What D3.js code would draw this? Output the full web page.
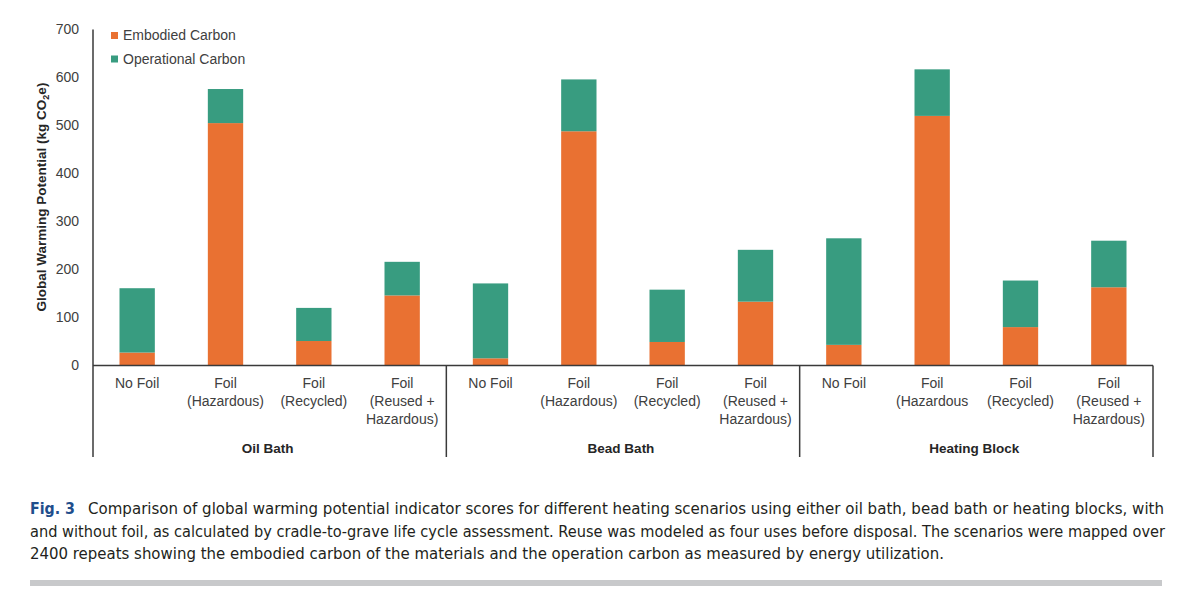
<!DOCTYPE html>
<html lang="en">

<head>
    <meta charset="utf-8">
    <title>Global warming potential by heating scenario</title>
    <script type="text/javascript" src="https://cdn.jsdelivr.net/npm/d3@7"></script>
    <style type="text/css">
    body {
        margin: 0;
        background: #fff;
    }

    svg text {
        font-family: "Liberation Sans", Arial, sans-serif;
        fill: #404040;
    }

    .caption text {
        font-family: "Liberation Sans Narrow", "DejaVu Sans Condensed", "Liberation Sans", sans-serif;
        fill: #231f20;
        font-size: 15px;
    }
    </style>
</head>

<body>
    <script type="text/javascript">
    //Width and height
    var w = 1188;
    var h = 606;

    //data
    var groups = ['Oil Bath', 'Bead Bath', 'Heating Block'];
    var scenarios = [
        ['No Foil'],
        ['Foil', '(Hazardous)'],
        ['Foil', '(Recycled)'],
        ['Foil', '(Reused +', 'Hazardous)']
    ];
    // heating block's hazardous label has no closing bracket in the original
    var heatingHazardousLabel = ['Foil', '(Hazardous'];

    var seriesNames = ['Embodied Carbon', 'Operational Carbon'];
    var seriesColors = ['#e97132', '#389c80'];

    //kg CO2e, per group, in scenario order
    var embodied = [
        [27, 505, 51, 146],
        [15, 488, 49, 133],
        [43, 520, 80, 163]
    ];
    var totals = [
        [161, 576, 120, 216],
        [171, 596, 158, 241],
        [265, 617, 177, 260]
    ];

    var yTicks = [0, 100, 200, 300, 400, 500, 600, 700];

    var captionLines = [
        'Comparison of global warming potential indicator scores for different heating scenarios using either oil bath, bead bath or heating blocks, with',
        'and without foil, as calculated by cradle-to-grave life cycle assessment. Reuse was modeled as four uses before disposal. The scenarios were mapped over',
        '2400 repeats showing the embodied carbon of the materials and the operation carbon as measured by energy utilization.'
    ];

    //flatten into one row per bar
    var rows = [];
    groups.forEach(function(g, gi) {
        scenarios.forEach(function(s, si) {
            rows.push({
                key: g + '|' + si,
                group: gi,
                label: (gi === 2 && si === 1) ? heatingHazardousLabel : s,
                embodied: embodied[gi][si],
                operational: totals[gi][si] - embodied[gi][si]
            });
        });
    });

    //plot area
    var plotLeft = 93;
    var plotRight = 1153;
    var plotBase = 365.5;
    var plotTop = 29.5;
    var plotBottom = 457;

    var x = d3.scaleBand()
        .domain(rows.map(function(d) { return d.key; }))
        .range([plotLeft, plotRight])
        .paddingInner(0.6)
        .paddingOuter(0.3);

    var y = d3.scaleLinear()
        .domain([0, 700])
        .range([plotBase, plotTop]);

    var svg = d3.select('body')
        .append('svg')
        .attr('width', w)
        .attr('height', h);

    //stacked bars
    var stack = d3.stack().keys(['embodied', 'operational']);
    var layers = stack(rows);

    svg.selectAll('g.layer')
        .data(layers)
        .enter()
        .append('g')
        .attr('class', 'layer')
        .attr('fill', function(d, i) { return seriesColors[i]; })
        .selectAll('rect')
        .data(function(d) { return d; })
        .enter()
        .append('rect')
        .attr('x', function(d) { return x(d.data.key); })
        .attr('width', x.bandwidth())
        .attr('y', function(d) { return y(d[1]); })
        .attr('height', function(d) { return y(d[0]) - y(d[1]); });

    //y axis (no ticks, just labels)
    var yAxis = d3.axisLeft(y)
        .tickValues(yTicks)
        .tickSize(0)
        .tickPadding(14);

    var yg = svg.append('g')
        .attr('transform', 'translate(' + plotLeft + ',0)')
        .call(yAxis);
    yg.select('.domain').remove();
    yg.selectAll('text')
        .style('font-size', '14px')
        .style('fill', '#404040')
        .style('font-family', '"Liberation Sans", Arial, sans-serif');

    var lineColor = '#3a3a3a';

    //axis lines
    svg.append('line')
        .attr('x1', plotLeft).attr('x2', plotLeft)
        .attr('y1', plotTop).attr('y2', plotBottom)
        .attr('stroke', lineColor).attr('stroke-width', 1.5);

    svg.append('line')
        .attr('x1', plotLeft).attr('x2', plotRight)
        .attr('y1', plotBase).attr('y2', plotBase)
        .attr('stroke', lineColor).attr('stroke-width', 1.5);

    //group separators and group names
    var step = x.step();
    groups.forEach(function(g, gi) {
        var gx = x(rows[gi * 4 + 3].key) + x.bandwidth() / 2 + step / 2;
        svg.append('line')
            .attr('x1', gx).attr('x2', gx)
            .attr('y1', plotBase).attr('y2', plotBottom)
            .attr('stroke', lineColor).attr('stroke-width', 1.5);

        var first = x(rows[gi * 4].key) + x.bandwidth() / 2 - step / 2;
        svg.append('text')
            .attr('x', (first + gx) / 2 - 2)
            .attr('y', 453)
            .attr('text-anchor', 'middle')
            .style('font-size', '13.5px')
            .style('font-weight', 'bold')
            .style('fill', '#262626')
            .text(g);
    });

    //category labels
    svg.selectAll('text.cat')
        .data(rows)
        .enter()
        .append('text')
        .attr('class', 'cat')
        .attr('text-anchor', 'middle')
        .style('font-size', '14px')
        .each(function(d) {
            var cx = x(d.key) + x.bandwidth() / 2;
            d3.select(this).selectAll('tspan')
                .data(d.label)
                .enter()
                .append('tspan')
                .attr('x', cx)
                .attr('y', function(t, i) { return 388 + i * 18; })
                .text(function(t) { return t; });
        });

    //y axis title
    var yt = svg.append('text')
        .attr('transform', 'translate(46,197) rotate(-90)')
        .attr('text-anchor', 'middle')
        .style('font-size', '13.5px')
        .style('font-weight', 'bold')
        .style('fill', '#262626');
    yt.append('tspan').text('Global Warming Potential (kg CO');
    yt.append('tspan').attr('dy', 3).style('font-size', '9px').text('2');
    yt.append('tspan').attr('dy', -3).text('e)');

    //legend
    var legend = svg.append('g')
        .selectAll('g')
        .data(seriesNames)
        .enter()
        .append('g')
        .attr('transform', function(d, i) { return 'translate(111,' + (32 + i * 23.5) + ')'; });

    legend.append('rect')
        .attr('width', 7)
        .attr('height', 7)
        .attr('fill', function(d, i) { return seriesColors[i]; });

    legend.append('text')
        .attr('x', 12)
        .attr('y', 8)
        .style('font-size', '14px')
        .text(function(d) { return d; });

    //caption
    var cap = svg.append('g').attr('class', 'caption');

    cap.append('text')
        .attr('x', 30)
        .attr('y', 514)
        .style('fill', '#1f4e8c')
        .style('font-weight', 'bold')
        .attr('textLength', 45)
        .attr('lengthAdjust', 'spacingAndGlyphs')
        .text('Fig. 3');

    var capStarts = [88, 30, 30];
    var capEnds = [1164, 1165, 944];
    captionLines.forEach(function(line, i) {
        cap.append('text')
            .attr('x', capStarts[i])
            .attr('y', 514 + i * 22.5)
            .attr('textLength', capEnds[i] - capStarts[i])
            .attr('lengthAdjust', 'spacingAndGlyphs')
            .text(line);
    });

    cap.append('rect')
        .attr('x', 30)
        .attr('y', 580)
        .attr('width', 1132)
        .attr('height', 6)
        .attr('fill', '#c8c9cb');
    </script>
</body>

</html>
